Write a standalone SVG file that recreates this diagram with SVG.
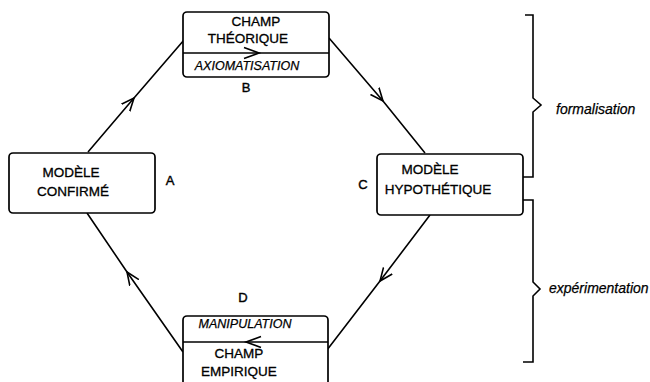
<svg xmlns="http://www.w3.org/2000/svg" width="650" height="382" viewBox="0 0 650 382">
<style>
.box{fill:#fff;stroke:#000;stroke-width:1.7}
.ln{fill:none;stroke:#000;stroke-width:1.6}
.t{font-family:"Liberation Sans",Arial,sans-serif;font-size:13.5px;fill:#000;stroke:#000;stroke-width:0.3;text-anchor:middle}
.i{font-family:"Liberation Sans",Arial,sans-serif;font-size:12.5px;font-style:italic;fill:#000;stroke:#000;stroke-width:0.25;text-anchor:middle}
.lab{font-family:"Liberation Sans",Arial,sans-serif;font-size:13px;fill:#000;stroke:#000;stroke-width:0.4;text-anchor:middle}
.br{font-family:"Liberation Sans",Arial,sans-serif;font-size:14px;font-style:italic;fill:#000;stroke:#000;stroke-width:0.25}
</style>
<defs>
<marker id="ah" viewBox="0 0 14 14" refX="13" refY="7" markerWidth="14" markerHeight="14" markerUnits="userSpaceOnUse" orient="auto">
<path d="M0,1.5 L13,7 L0,12.5" fill="none" stroke="#000" stroke-width="1.6"/>
</marker>
</defs>
<rect width="650" height="382" fill="#fff"/>
<g id="connectors">
<path class="ln" d="M88,152 L134,98 L184,40" marker-mid="url(#ah)"/>
<path class="ln" d="M329,38 L383,101 L425,153" marker-mid="url(#ah)"/>
<path class="ln" d="M430,215 L380,281 L327,350" marker-mid="url(#ah)"/>
<path class="ln" d="M183,352 L127,272 L87,213" marker-mid="url(#ah)"/>
</g>
<g id="nodeB">
<rect class="box" x="183" y="12" width="146" height="65" rx="4"/>
<line class="ln" x1="183" y1="53" x2="329" y2="53"/>
<path class="ln" d="M244,47.5 L259,53 L244,58.5" stroke-width="1.2"/>
<text class="t" x="256" y="26">CHAMP</text>
<text class="t" x="248" y="43">THÉORIQUE</text>
<text class="i" x="247" y="70">AXIOMATISATION</text>
<text class="lab" x="246" y="92">B</text>
</g>
<g id="nodeA">
<rect class="box" x="9" y="153" width="146" height="60" rx="4"/>
<text class="t" x="71" y="177">MODÈLE</text>
<text class="t" x="73" y="196">CONFIRMÉ</text>
<text class="lab" x="170" y="185">A</text>
</g>
<g id="nodeC">
<rect class="box" x="377" y="154" width="146" height="61" rx="4"/>
<text class="t" x="430" y="174">MODÈLE</text>
<text class="t" x="438" y="194">HYPOTHÉTIQUE</text>
<text class="lab" x="363" y="189">C</text>
</g>
<g id="nodeD">
<rect class="box" x="183" y="316" width="145" height="80" rx="4"/>
<line class="ln" x1="183" y1="342" x2="328" y2="342"/>
<path class="ln" d="M261,336.5 L246,342 L261,347.5" stroke-width="1.2"/>
<text class="i" x="245" y="328">MANIPULATION</text>
<text class="t" x="239" y="358">CHAMP</text>
<text class="t" x="239" y="376">EMPIRIQUE</text>
<text class="lab" x="243" y="302">D</text>
</g>
<g id="brackets">
<path class="ln" d="M525,15 H533 V98 L541,105 L533,112 V177 H523"/>
<text class="br" x="556" y="114">formalisation</text>
<path class="ln" d="M523,200 H533 V282 L540,289 L533,296 V362 H523"/>
<text class="br" x="549" y="293">expérimentation</text>
</g>
</svg>
